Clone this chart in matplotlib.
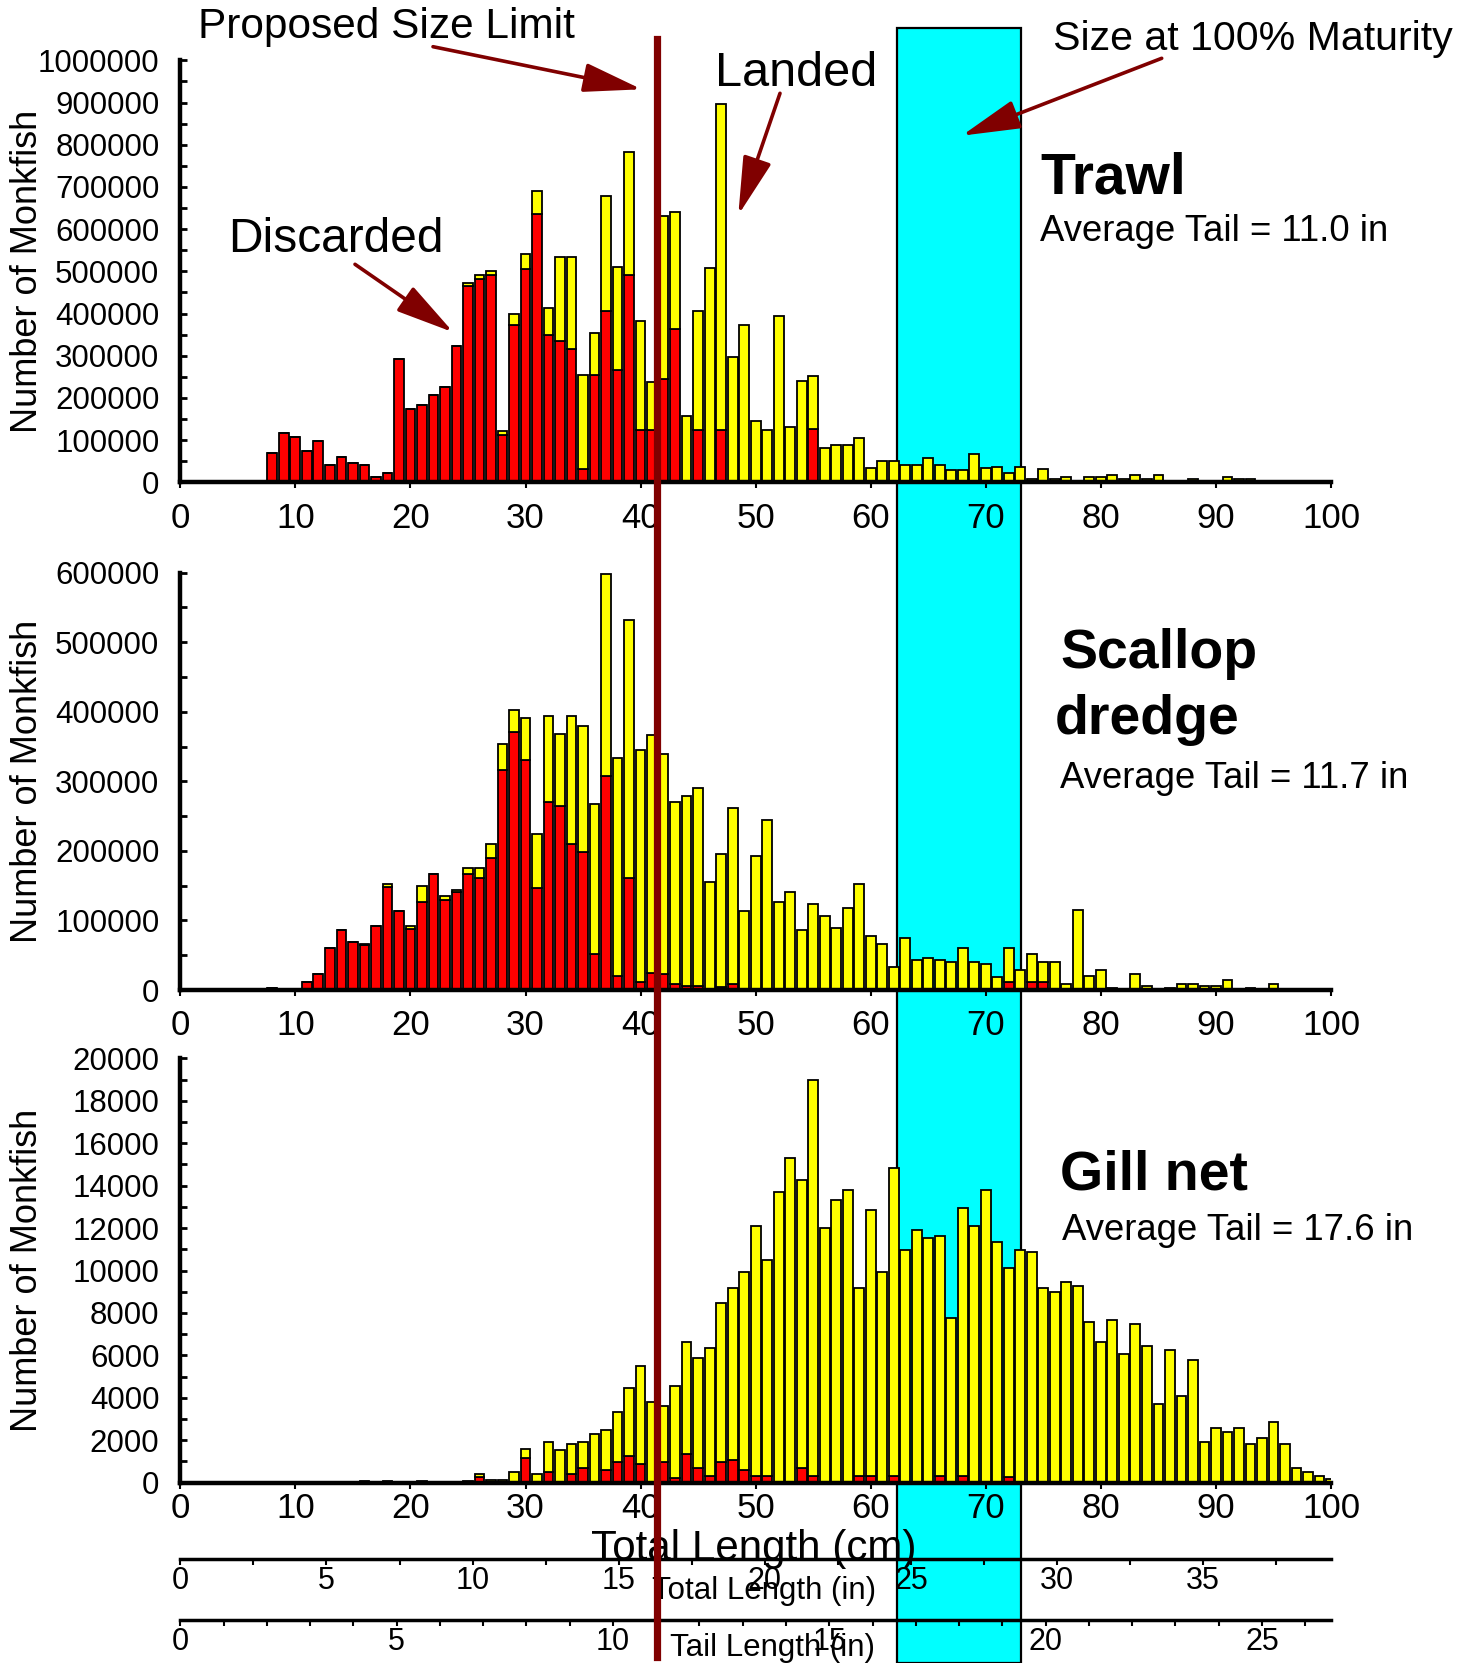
import matplotlib
matplotlib.use("Agg")
import matplotlib.pyplot as plt
from matplotlib.ticker import MultipleLocator

plt.rcParams['font.family'] = ['Liberation Sans', 'DejaVu Sans']

# ---------------- data ----------------
trawl_cm = list(range(8, 94))
trawl_discarded = [70000, 117000, 108000, 75000, 99000, 42000, 59000, 46000, 41000, 13000,
                   22000, 292000, 174000, 183000, 208000, 225000, 322000,
                   466000, 482000, 492000, 112000, 374000, 506000, 636000, 350000, 336000, 316000,
                   32000, 255000, 407000, 265000, 492000, 123000, 123000, 245000, 364000, 0,
                   123000, 0, 123000, 0, 0, 0, 0, 0, 0, 0,
                   126000, 0, 0, 0, 0, 0, 0, 0, 0, 0,
                   0, 0, 0, 0, 0, 0, 0, 0, 0, 0,
                   0, 0, 0, 0, 0, 0, 0, 0, 0, 0,
                   0, 0, 0, 0, 0, 0, 0, 0, 0]
trawl_landed = [0, 0, 0, 0, 0, 0, 0, 0, 0, 0, 0, 0, 0, 0, 0, 0, 0,
                7000, 9000, 10000, 10000, 24000, 34000, 55000, 62000, 198000, 218000,
                223000, 100000, 271000, 246000, 290000, 260000, 114000, 386000, 276000, 156000,
                284000, 507000, 773000, 298000, 374000, 146000, 123000, 393000, 132000, 241000,
                125000, 81000, 89000, 89000, 104000, 33000, 51000, 51000, 42000, 42000,
                57000, 42000, 28000, 30000, 66000, 34000, 37000, 21000, 37000, 7000,
                32000, 7000, 12000, 0, 12000, 12000, 18000, 7000, 18000, 7000,
                18000, 0, 0, 7000, 0, 0, 12000, 7000, 7000]

scallop_cm = list(range(8, 96))
scallop_discarded = [3000, 0, 0, 12000, 23000, 61000, 86000, 69000, 64000, 92000,
                     148000, 113000, 87000, 127000, 167000, 129000, 141000, 167000, 161000, 190000,
                     316000, 371000, 331000, 146000, 270000, 264000, 210000, 198000, 52000, 308000,
                     20000, 161000, 12000, 25000, 23000, 9000, 6000, 6000, 0, 4000,
                     9000, 0, 0, 0, 0, 0, 0, 0, 0, 0,
                     0, 0, 0, 0, 0, 0, 0, 0, 0, 0,
                     0, 0, 0, 0, 11000, 0, 11000, 11000, 0, 0,
                     0, 0, 0, 0, 0, 0, 0, 0, 0, 0,
                     0, 0, 0, 0, 0, 0, 0, 0]
scallop_landed = [0, 0, 0, 0, 0, 0, 0, 0, 2000, 0,
                  4000, 0, 5000, 22000, 0, 6000, 3000, 9000, 15000, 20000,
                  38000, 31000, 60000, 78000, 124000, 104000, 184000, 182000, 215000, 290000,
                  313000, 371000, 333000, 341000, 317000, 262000, 273000, 284000, 156000, 192000,
                  253000, 113000, 193000, 245000, 127000, 141000, 86000, 124000, 106000, 89000,
                  118000, 153000, 78000, 66000, 33000, 75000, 43000, 46000, 43000, 40000,
                  60000, 40000, 37000, 18000, 49000, 29000, 41000, 29000, 40000, 9000,
                  115000, 20000, 29000, 3000, 0, 23000, 6000, 0, 3000, 9000,
                  9000, 6000, 6000, 14000, 0, 3000, 0, 9000]

gill_cm = list(range(16, 101))
gill_discarded = [0, 0, 0, 0, 0, 0, 0, 0, 0, 0,
                  280, 0, 0, 0, 1150, 0, 490, 0, 390, 680,
                  0, 600, 990, 1260, 880, 0, 990, 200, 1350, 680,
                  310, 990, 1070, 600, 310, 310, 0, 0, 710, 310,
                  0, 0, 0, 310, 310, 0, 310, 0, 0, 0,
                  310, 0, 310, 0, 0, 0, 280, 0, 0, 0,
                  0, 0, 0, 0, 0, 0, 0, 0, 0, 0,
                  0, 0, 0, 0, 0, 0, 0, 0, 0, 0,
                  0, 0, 0, 0, 0]
gill_landed = [100, 0, 100, 0, 0, 100, 0, 0, 0, 60,
               120, 150, 150, 520, 420, 390, 1440, 1540, 1430, 1220,
               2290, 1880, 2360, 3220, 4630, 3790, 2620, 4370, 5300, 5210,
               6050, 7460, 8120, 9350, 11800, 10180, 13700, 15320, 13560, 18670,
               11990, 13320, 13790, 8880, 12540, 9950, 14540, 10970, 11910, 11520,
               11320, 7780, 12650, 12100, 13790, 11360, 9840, 10970, 10890, 9190,
               9000, 9470, 9290, 7590, 6650, 7670, 6080, 7490, 6460, 3710,
               6250, 4080, 5780, 1930, 2580, 2390, 2580, 1820, 2110, 2860,
               1820, 710, 490, 310, 190]

avg_tail = ["Average Tail = 11.0 in", "Average Tail = 11.7 in", "Average Tail = 17.6 in"]
y_max = [1000000, 600000, 20000]
y_major = [100000, 100000, 2000]
y_minor = [50000, 50000, 1000]
x_pad = [10, 10, 3]

size_limit_cm = 41.4          # 11 in tail
maturity_cm = (62.3, 73.1)    # size at 100% maturity
cm_per_inch_total = 2.54
cm_per_inch_tail = 3.76

# ---------------- layout ----------------
WPX, HPX = 1474, 1663
fig = plt.figure(figsize=(WPX / 100, HPX / 100), dpi=100)
fig.patch.set_facecolor('white')

def fx(px):
    return px / WPX

def fy(py):
    return 1 - py / HPX

L = fx(180.3)
W = 1150.7 / WPX
panel_px = [(60.4, 482.3), (572.7, 990.0), (1058.3, 1482.7)]

RED = '#FF0000'
YEL = '#FFFF00'
CYAN = '#00FFFF'
DARK = '#800000'

# background overlay for maturity band
ax_bg = fig.add_axes([L, 0, W, 1], zorder=-1)
ax_bg.set_xlim(0, 100)
ax_bg.set_ylim(0, 1)
ax_bg.axis('off')
ax_bg.axvspan(maturity_cm[0], maturity_cm[1], ymin=0, ymax=fy(27.6),
              facecolor=CYAN, edgecolor='black', linewidth=1.6)

datasets = [(trawl_cm, trawl_discarded, trawl_landed),
            (scallop_cm, scallop_discarded, scallop_landed),
            (gill_cm, gill_discarded, gill_landed)]

for i, ((top, bot), (cm, disc, land)) in enumerate(zip(panel_px, datasets)):
    ax = fig.add_axes([L, fy(bot), W, (bot - top) / HPX])
    ax.set_facecolor('none')
    ax.bar(cm, disc, width=0.85, color=RED, edgecolor='black', linewidth=1.3, zorder=2)
    ax.bar(cm, land, bottom=disc, width=0.85, color=YEL, edgecolor='black',
           linewidth=1.3, zorder=2)
    ax.set_xlim(0, 100)
    ax.set_ylim(0, y_max[i])
    for s in ['top', 'right']:
        ax.spines[s].set_visible(False)
    for s in ['left', 'bottom']:
        ax.spines[s].set_linewidth(3.2)
        ax.spines[s].set_zorder(3)
    ax.set_xticks(range(0, 101, 10))
    ax.set_xticklabels([str(v) for v in range(0, 101, 10)])
    yt = list(range(0, y_max[i] + 1, y_major[i]))
    ax.set_yticks(yt)
    ax.set_yticklabels([str(v) for v in yt])
    ax.yaxis.set_minor_locator(MultipleLocator(y_minor[i]))
    ax.tick_params(axis='x', direction='out', length=4, width=1.5, labelsize=25,
                   pad=x_pad[i])
    ax.tick_params(axis='y', which='both', direction='in', length=5, width=2,
                   labelsize=22.5, pad=15)
    ax.set_ylabel("Number of Monkfish", fontsize=26)
    ax.yaxis.set_label_coords(-0.1175, 0.5)

# bottom inch scales
def inch_axis(line_y, xmax, majors, minor_step, label, label_x, label_base):
    a = fig.add_axes([L, fy(line_y), W, 0.0001])
    a.set_facecolor('none')
    a.set_xlim(0, xmax)
    for s in ['top', 'right', 'left']:
        a.spines[s].set_visible(False)
    a.spines['bottom'].set_linewidth(2.5)
    a.set_yticks([])
    a.set_xticks(majors)
    a.set_xticklabels([str(v) for v in majors])
    a.xaxis.set_minor_locator(MultipleLocator(minor_step))
    a.tick_params(axis='x', which='both', direction='out', length=4.5, width=1.5,
                  labelsize=22, pad=0.5)
    fig.text(fx(label_x), fy(label_base), label, fontsize=22.5, ha='left', va='baseline')
    return a

inch_axis(1559, 100 / cm_per_inch_total, list(range(0, 36, 5)), 2.5,
          "Total Length (in)", 652, 1599)
inch_axis(1620, 100 / cm_per_inch_tail, list(range(0, 26, 5)), 1.0,
          "Tail Length (in)", 670, 1656)

fig.text(fx(591), fy(1560), "Total Length (cm)", fontsize=30.3, ha='left', va='baseline')

# foreground overlay: size limit line
ax_fg = fig.add_axes([L, 0, W, 1], zorder=10)
ax_fg.set_facecolor('none')
ax_fg.set_xlim(0, 100)
ax_fg.set_ylim(0, 1)
ax_fg.axis('off')
ax_fg.axvline(size_limit_cm, ymin=fy(1657), ymax=fy(39), color=DARK, linewidth=5.2)

# panel titles
fig.text(fx(1040), fy(194), "Trawl", fontsize=41, fontweight='bold', ha='left', va='baseline')
fig.text(fx(1040), fy(241), avg_tail[0], fontsize=26.3, ha='left', va='baseline')
fig.text(fx(1060), fy(668), "Scallop", fontsize=40, fontweight='bold', ha='left', va='baseline')
fig.text(fx(1055), fy(734), "dredge", fontsize=40, fontweight='bold', ha='left', va='baseline')
fig.text(fx(1060), fy(788), avg_tail[1], fontsize=26.3, ha='left', va='baseline')
fig.text(fx(1060), fy(1190), "Gill net", fontsize=40, fontweight='bold', ha='left', va='baseline')
fig.text(fx(1062), fy(1240), avg_tail[2], fontsize=26.3, ha='left', va='baseline')

# annotations
fig.text(fx(198), fy(38), "Proposed Size Limit", fontsize=30.5, ha='left', va='baseline')
fig.text(fx(1053), fy(50), "Size at 100% Maturity", fontsize=29.6, ha='left', va='baseline')
fig.text(fx(715), fy(86), "Landed", fontsize=35, ha='left', va='baseline')
fig.text(fx(228), fy(252), "Discarded", fontsize=34.5, ha='left', va='baseline')

arrows = [((433, 46.7), (641.7, 89.3)),
          ((780, 93.3), (738.3, 215)),
          ((355, 264.3), (453.3, 332.3)),
          ((1161.7, 58.3), (961.7, 135.7))]
for (sx, sy), (tx, ty) in arrows:
    ax_fg.annotate('', xy=(tx, HPX - ty), xycoords='figure pixels',
                   xytext=(sx, HPX - sy), textcoords='figure pixels',
                   arrowprops=dict(arrowstyle='-|>,head_length=1.8,head_width=0.45',
                                   mutation_scale=20, color=DARK, lw=2.6,
                                   shrinkA=0, shrinkB=0))

fig.savefig('out.png', dpi=100)
